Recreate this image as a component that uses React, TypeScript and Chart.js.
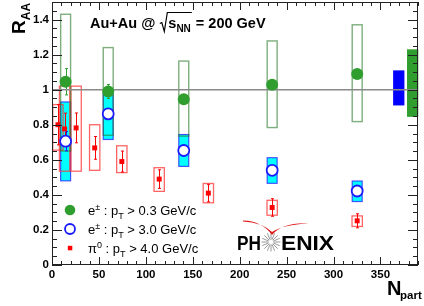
import React, { useEffect, useRef } from 'react';
import { Chart, registerables } from 'chart.js';

Chart.register(...registerables);

// ---------------- data ----------------
const eNpart = [14.5, 59.9, 140.4, 234.6, 325.2];
const eLowRaa = [1.045, 0.99, 0.945, 1.028, 1.09];
const eLowStat = [0.075, 0.04, 0.02, 0.02, 0.02];
const eLowSysLo = [0.65, 0.74, 0.735, 0.784, 0.818];
const eLowSysHi = [1.43, 1.24, 1.163, 1.278, 1.37];

const eHighRaa = [0.706, 0.862, 0.653, 0.54, 0.422];
const eHighStat = [0.055, 0.03, 0.02, 0.02, 0.02];
const eHighSysLo = [0.48, 0.716, 0.5625, 0.466, 0.362];
const eHighSysHi = [0.93, 0.98, 0.744, 0.612, 0.479];

const piNpart = [6.3, 13.4, 25.7, 45.5, 74.4, 114.2, 166.6, 234.6, 325.2];
const piRaa = [0.8, 0.776, 0.782, 0.668, 0.59, 0.49, 0.41, 0.328, 0.252];
const piStat = [0.115, 0.09, 0.085, 0.065, 0.06, 0.053, 0.05, 0.05, 0.04];
const piSysLo = [0.655, 0.535, 0.535, 0.54, 0.527, 0.42, 0.355, 0.284, 0.22];
const piSysHi = [0.915, 1.02, 1.02, 0.8, 0.68, 0.555, 0.465, 0.369, 0.28];

// global normalisation uncertainty boxes (at Npart ~ 370 and ~385)
const normNpart = [369.5, 384.3];
const normLo = [0.91, 0.845];
const normHi = [1.11, 1.23];

const unityX = [0, 390];
const xTickValues = [0, 50, 100, 150, 200, 250, 300, 350];
const xTickLabels = ['0', '50', '100', '150', '200', '250', '300', '350'];
const yTickValues = [0, 0.2, 0.4, 0.6, 0.8, 1.0, 1.2, 1.4];
const yTickLabels = ['0', '0.2', '0.4', '0.6', '0.8', '1', '1.2', '1.4'];

const X_MIN = 0;
const X_MAX = 390;
const Y_MIN = 0;
const Y_MAX = 1.5;

// ---------------- styles ----------------
const FONT = "'Liberation Sans', Arial, Helvetica, sans-serif";
const GREEN = '#2f9e2f';
const BLUE = '#1a1aff';
const RED = '#ff0000';
const CYAN = '#00ffff';

type Seg = { t: string; font: string; dy?: number };

function drawRich(ctx: CanvasRenderingContext2D, x: number, y: number, segs: Seg[]) {
  let cx = x;
  for (const s of segs) {
    ctx.font = s.font;
    ctx.fillText(s.t, cx, y + (s.dy || 0));
    cx += ctx.measureText(s.t).width;
  }
  return cx;
}

const phenixPlugin = {
  id: 'phenixDecor',
  beforeDatasetsDraw(chart: any) {
    const { ctx, scales } = chart;
    const xs = scales.x;
    const ys = scales.y;
    const px = (v: number) => xs.getPixelForValue(v);
    const py = (v: number) => ys.getPixelForValue(v);
    ctx.save();
    const eHalf = 5.3;
    const piHalf = 5.5;

    // cyan filled systematic boxes (e± pT > 3)
    eNpart.forEach((n, i) => {
      const l = px(n - eHalf), r = px(n + eHalf);
      const t = py(eHighSysHi[i]), b = py(eHighSysLo[i]);
      ctx.fillStyle = CYAN;
      ctx.fillRect(l, t, r - l, b - t);
      ctx.strokeStyle = 'rgba(40,40,255,0.8)';
      ctx.lineWidth = 1.2;
      ctx.strokeRect(l, t, r - l, b - t);
    });

    // red open systematic boxes (pi0)
    piNpart.forEach((n, i) => {
      const l = px(n - piHalf), r = px(n + piHalf);
      const t = py(piSysHi[i]), b = py(piSysLo[i]);
      ctx.strokeStyle = 'rgba(255,50,50,0.75)';
      ctx.lineWidth = 1.3;
      ctx.strokeRect(l, t, r - l, b - t);
    });

    // green open systematic boxes (e± pT > 0.3)
    eNpart.forEach((n, i) => {
      const l = px(n - eHalf), r = px(n + eHalf);
      const t = py(eLowSysHi[i]), b = py(eLowSysLo[i]);
      ctx.strokeStyle = 'rgba(40,120,40,0.6)';
      ctx.lineWidth = 1.4;
      ctx.strokeRect(l, t, r - l, b - t);
    });

    // normalisation boxes
    const normColors = ['#0000ff', GREEN];
    normNpart.forEach((n, i) => {
      const l = px(n - 6), r = px(n + 6);
      const t = py(normHi[i]), b = py(normLo[i]);
      ctx.fillStyle = normColors[i];
      ctx.fillRect(l, t, r - l, b - t);
    });

    // error bars
    const bars = (xsArr: number[], ysArr: number[], err: number[], color: string) => {
      ctx.strokeStyle = color;
      ctx.lineWidth = 1;
      xsArr.forEach((n, i) => {
        const X = Math.round(px(n)) + 0.5;
        const t = py(ysArr[i] + err[i]);
        const b = py(ysArr[i] - err[i]);
        ctx.beginPath();
        ctx.moveTo(X, t);
        ctx.lineTo(X, b);
        ctx.moveTo(X - 1.5, t);
        ctx.lineTo(X + 1.5, t);
        ctx.moveTo(X - 1.5, b);
        ctx.lineTo(X + 1.5, b);
        ctx.stroke();
      });
    };
    bars(piNpart, piRaa, piStat, RED);
    bars(eNpart, eLowRaa, eLowStat, GREEN);
    bars(eNpart, eHighRaa, eHighStat, BLUE);
    ctx.restore();
  },
  afterDatasetsDraw(chart: any) {
    const { ctx, chartArea, scales } = chart;
    const xs = scales.x;
    const ys = scales.y;
    const { left, right, top, bottom } = chartArea;
    ctx.save();

    // frame
    ctx.strokeStyle = '#222';
    ctx.lineWidth = 1;
    ctx.strokeRect(Math.round(left) + 0.5, Math.round(top) + 0.5, Math.round(right - left) - 1, Math.round(bottom - top) - 1);

    // inward ticks
    ctx.beginPath();
    for (let k = 0; k <= 30; k++) {
      const v = k * 0.05;
      if (v > Y_MAX + 1e-9) break;
      const Y = Math.round(ys.getPixelForValue(v)) + 0.5;
      const len = k % 4 === 0 ? 10 : 5;
      ctx.moveTo(left, Y);
      ctx.lineTo(left + len, Y);
      ctx.moveTo(right, Y);
      ctx.lineTo(right - len, Y);
    }
    for (let v = 0; v <= X_MAX; v += 10) {
      const X = Math.round(xs.getPixelForValue(v)) + 0.5;
      const len = v % 50 === 0 ? 8 : 4;
      ctx.moveTo(X, bottom);
      ctx.lineTo(X, bottom - len);
      ctx.moveTo(X, top);
      ctx.lineTo(X, top + len);
    }
    ctx.stroke();

    ctx.fillStyle = '#000';
    ctx.textAlign = 'left';
    ctx.textBaseline = 'alphabetic';

    // title
    const tf = `bold 14.5px ${FONT}`;
    let cx = drawRich(ctx, 90, 28, [{ t: 'Au+Au @ ', font: tf }]);
    const sx = cx;
    cx = drawRich(ctx, cx + 9, 28, [
      { t: 's', font: tf },
      { t: 'NN', font: `bold 10px ${FONT}`, dy: 3.5 },
    ]);
    ctx.strokeStyle = '#000';
    ctx.lineWidth = 1.2;
    ctx.beginPath();
    ctx.moveTo(sx + 0.5, 23.5);
    ctx.lineTo(sx + 2.5, 22.5);
    ctx.lineTo(sx + 5, 31.5);
    ctx.lineTo(sx + 8, 12.5);
    ctx.lineTo(cx + 1, 12.5);
    ctx.stroke();
    drawRich(ctx, cx + 1, 28, [{ t: ' = 200 GeV', font: tf }]);

    // y-axis title (rotated)
    ctx.save();
    ctx.translate(25, 34);
    ctx.rotate(-Math.PI / 2);
    drawRich(ctx, 0, 0, [
      { t: 'R', font: `bold 19px ${FONT}` },
      { t: 'AA', font: `bold 12px ${FONT}`, dy: 5 },
    ]);
    ctx.restore();

    // x-axis title
    drawRich(ctx, 387, 295, [{ t: 'N', font: `bold 20px ${FONT}` }]);
    drawRich(ctx, 400, 299, [{ t: 'part', font: `bold 11.5px ${FONT}` }]);

    // legend
    const lf = `13px ${FONT}`;
    const sf = `9px ${FONT}`;
    ctx.fillStyle = GREEN;
    ctx.beginPath();
    ctx.arc(70, 210, 5.3, 0, Math.PI * 2);
    ctx.fill();
    ctx.fillStyle = '#fff';
    ctx.strokeStyle = BLUE;
    ctx.lineWidth = 1.8;
    ctx.beginPath();
    ctx.arc(70, 229, 5, 0, Math.PI * 2);
    ctx.fill();
    ctx.stroke();
    ctx.fillStyle = RED;
    ctx.fillRect(67.8, 245.8, 4.5, 4.5);

    ctx.fillStyle = '#000';
    drawRich(ctx, 88, 214.5, [
      { t: 'e', font: lf },
      { t: '±', font: sf, dy: -5 },
      { t: ' : p', font: lf },
      { t: 'T', font: sf, dy: 4 },
      { t: ' > 0.3 GeV/c', font: lf },
    ]);
    drawRich(ctx, 88, 233.5, [
      { t: 'e', font: lf },
      { t: '±', font: sf, dy: -5 },
      { t: ' : p', font: lf },
      { t: 'T', font: sf, dy: 4 },
      { t: ' > 3.0 GeV/c', font: lf },
    ]);
    drawRich(ctx, 88, 252.5, [
      { t: 'π', font: lf },
      { t: '0', font: sf, dy: -5 },
      { t: ' : p', font: lf },
      { t: 'T', font: sf, dy: 4 },
      { t: ' > 4.0 GeV/c', font: lf },
    ]);

    // PHENIX logo
    const drawFit = (t: string, x0: number, w: number, base: number) => {
      ctx.font = `bold 20px ${FONT}`;
      const mw = ctx.measureText(t).width;
      ctx.save();
      ctx.translate(x0, base);
      ctx.scale(w / mw, 1);
      ctx.fillText(t, 0, 0);
      ctx.restore();
    };
    ctx.fillStyle = '#000';
    drawFit('PH', 237, 24, 250);
    drawFit('ENIX', 281, 53, 250);
    // star
    ctx.strokeStyle = '#9a9a9a';
    ctx.lineWidth = 1;
    ctx.beginPath();
    for (let k = 0; k < 16; k++) {
      const a = (k * Math.PI) / 8;
      ctx.moveTo(271 + Math.cos(a) * 2.5, 242 + Math.sin(a) * 2.5);
      ctx.lineTo(271 + Math.cos(a) * 9.5, 242 + Math.sin(a) * 9.5);
    }
    ctx.stroke();
    // red swoosh
    ctx.fillStyle = '#e01818';
    ctx.beginPath();
    ctx.moveTo(243, 220.5);
    ctx.quadraticCurveTo(262, 221, 272, 235);
    ctx.quadraticCurveTo(283, 222, 309, 223.5);
    ctx.quadraticCurveTo(283, 224.5, 272, 232);
    ctx.quadraticCurveTo(262, 222.5, 243, 221.5);
    ctx.closePath();
    ctx.fill();

    ctx.restore();
  },
};

export default function App() {
  const ref = useRef<HTMLCanvasElement>(null);
  useEffect(() => {
    document.body.style.margin = '0';
    const canvas = ref.current!;
    Chart.defaults.font.family = FONT;
    const chart = new Chart(canvas, {
      type: 'scatter',
      data: {
        datasets: [
          {
            type: 'line',
            label: 'unity',
            data: unityX.map((v) => ({ x: v, y: 1 })),
            borderColor: '#8a8a8a',
            borderWidth: 1.5,
            pointRadius: 0,
            order: 10,
          } as any,
          {
            label: 'e± : pT > 0.3 GeV/c',
            data: eNpart.map((n, i) => ({ x: n, y: eLowRaa[i] })),
            pointStyle: 'circle',
            pointRadius: 6,
            backgroundColor: GREEN,
            borderColor: GREEN,
            borderWidth: 0,
            order: 1,
          },
          {
            label: 'e± : pT > 3.0 GeV/c',
            data: eNpart.map((n, i) => ({ x: n, y: eHighRaa[i] })),
            pointStyle: 'circle',
            pointRadius: 5.5,
            backgroundColor: '#ffffff',
            borderColor: BLUE,
            borderWidth: 1.8,
            order: 1,
          },
          {
            label: 'π0 : pT > 4.0 GeV/c',
            data: piNpart.map((n, i) => ({ x: n, y: piRaa[i] })),
            pointStyle: 'rect',
            pointRadius: 3.5,
            backgroundColor: RED,
            borderColor: RED,
            borderWidth: 0,
            order: 1,
          },
        ],
      },
      options: {
        responsive: false,
        animation: false,
        devicePixelRatio: 1,
        layout: { autoPadding: false, padding: { left: 0, top: 2, right: 6, bottom: 0 } },
        plugins: { legend: { display: false }, tooltip: { enabled: false } },
        scales: {
          x: {
            type: 'linear',
            min: X_MIN,
            max: X_MAX,
            grid: { display: false, drawTicks: false },
            border: { display: false },
            afterBuildTicks: (s: any) => {
              s.ticks = xTickValues.map((v) => ({ value: v }));
            },
            afterFit: (s: any) => {
              s.height = 41;
              s.paddingLeft = 0;
              s.paddingRight = 0;
            },
            ticks: {
              padding: 3,
              color: '#000',
              font: { family: FONT, size: 11.5, weight: 'bold' },
              autoSkip: false,
              maxRotation: 0,
              callback: (v: any) => {
                const i = xTickValues.indexOf(Number(v));
                return i >= 0 ? xTickLabels[i] : '';
              },
            },
          },
          y: {
            type: 'linear',
            min: Y_MIN,
            max: Y_MAX,
            grid: { display: false, drawTicks: false },
            border: { display: false },
            afterBuildTicks: (s: any) => {
              s.ticks = yTickValues.map((v) => ({ value: v }));
            },
            afterFit: (s: any) => {
              s.width = 52;
              s.paddingTop = 0;
              s.paddingBottom = 0;
            },
            ticks: {
              padding: 3,
              color: '#000',
              font: { family: FONT, size: 11.5, weight: 'bold' },
              autoSkip: false,
              callback: (v: any) => {
                const i = yTickValues.findIndex((t) => Math.abs(t - Number(v)) < 1e-6);
                return i >= 0 ? yTickLabels[i] : '';
              },
            },
          },
        },
      },
      plugins: [phenixPlugin],
    } as any);
    return () => chart.destroy();
  }, []);
  return (
    <div style={{ width: 424, height: 306, background: '#fff' }}>
      <canvas ref={ref} width={424} height={306} style={{ display: 'block' }} />
    </div>
  );
}
